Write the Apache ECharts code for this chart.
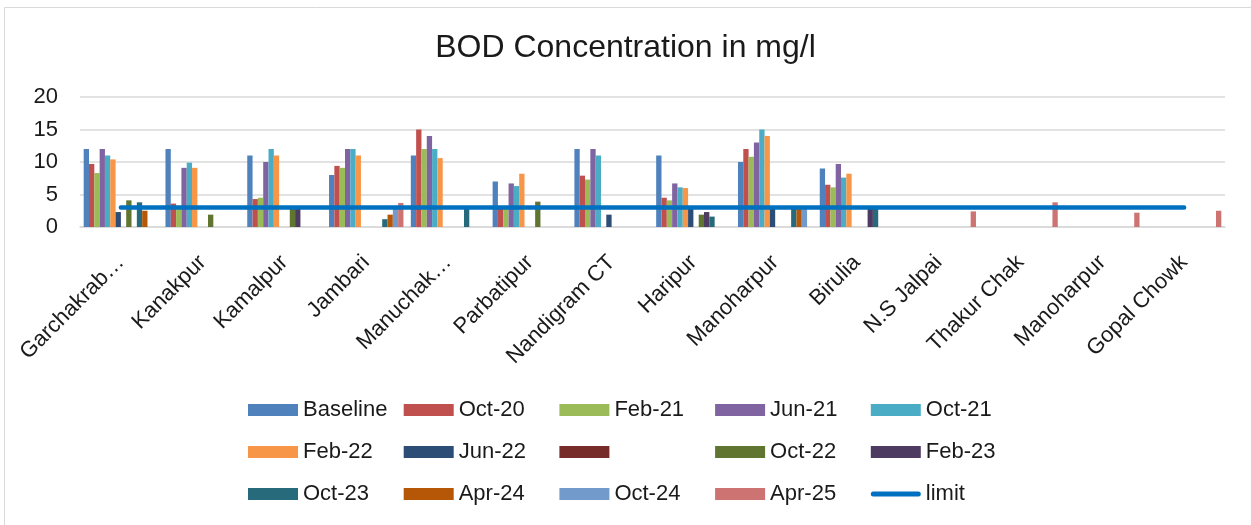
<!DOCTYPE html>
<html>
<head>
<meta charset="utf-8">
<title>BOD Concentration</title>
<script src="https://cdn.jsdelivr.net/npm/echarts@6/dist/echarts.min.js"></script>
<style>
    html, body { margin: 0; padding: 0; background: #fff; }
    #chart { width: 1251px; height: 525px; }
</style>
</head>
<body>
<div id="chart"></div>
<script>
// categories (Excel truncated two of the names)
const stations = ["Garchakrab\u2026", "Kanakpur", "Kamalpur", "Jambari", "Manuchak\u2026", "Parbatipur",
    "Nandigram CT", "Haripur", "Manoharpur", "Birulia", "N.S Jalpai", "Thakur Chak", "Manoharpur", "Gopal Chowk"];

const yTicks = [0, 5, 10, 15, 20];

// bar series values (null = no bar)
const baseline = [12, 12, 11, 8, 11, 7, 12, 11, 10, 9, null, null, null, null];
const oct20 = [9.7, 3.6, 4.3, 9.4, 15, 3, 7.9, 4.5, 12, 6.5, null, null, null, null];
const feb21 = [8.3, 3, 4.5, 9.1, 12, 3, 7.3, 4.1, 10.8, 6.1, null, null, null, null];
const jun21 = [12, 9.1, 10, 12, 14, 6.7, 12, 6.7, 13, 9.7, null, null, null, null];
const oct21 = [11, 9.9, 12, 12, 12, 6.3, 11, 6.1, 15, 7.6, null, null, null, null];
const feb22 = [10.4, 9.1, 11, 11, 10.6, 8.2, null, 6, 14, 8.2, null, null, null, null];
const jun22 = [2.3, null, null, null, null, null, 1.9, 3, 3, null, null, null, null, null];
const blank = [null, null, null, null, null, null, null, null, null, null, null, null, null, null];
const oct22 = [4.1, 1.9, 3, null, null, 3.9, null, 1.9, null, null, null, null, null, null];
const feb23 = [null, null, 3, null, null, null, null, 2.3, null, 3, null, null, null, null];
const oct23 = [3.8, null, null, 1.2, 3, null, null, 1.6, 3, 3, null, null, null, null];
const apr24 = [2.5, null, null, 1.9, null, null, null, null, 3, null, null, null, null, null];
const oct24 = [null, null, null, 3, null, null, null, null, 3, null, null, null, null, null];
const apr25 = [null, null, null, 3.7, null, null, null, null, null, null, 2.4, 3.8, 2.2, 2.5];
const limit = [3, 3, 3, 3, 3, 3, 3, 3, 3, 3, 3, 3, 3, 3];

const barNames = ["Baseline", "Oct-20", "Feb-21", "Jun-21", "Oct-21", "Feb-22", "Jun-22", " ",
    "Oct-22", "Feb-23", "Oct-23", "Apr-24", "Oct-24", "Apr-25"];
const barValues = [baseline, oct20, feb21, jun21, oct21, feb22, jun22, blank,
    oct22, feb23, oct23, apr24, oct24, apr25];
const barColors = ["#4F81BD", "#C0504D", "#9BBB59", "#8064A2", "#4BACC6", "#F79646", "#2C4D75", "#772C2A",
    "#5F7530", "#4D3B62", "#276A7C", "#B65708", "#729ACA", "#CD7371"];

const font = "Liberation Sans, Arial, sans-serif";
const textColor = "#1a1a1a";

const series = barNames.map(function (name, i) {
    return {
        name: name,
        type: "bar",
        barGap: 0,
        barCategoryGap: "9%",
        itemStyle: { color: barColors[i] },
        data: barValues[i],
    };
});
series.push({
    name: "limit",
    type: "line",
    symbol: "none",
    lineStyle: { color: "#0070C0", width: 4.5, cap: "round" },
    itemStyle: { color: "#0070C0" },
    data: limit,
});

// legend: Excel lays it out as a 5-column grid, so one vertical legend per column
const capsule = "path://M2.5,0 L47.5,0 A2.5,2.5 0 0 1 47.5,5 L2.5,5 A2.5,2.5 0 0 1 2.5,0 Z";
const legendItems = barNames.map(function (n) { return { name: n, icon: "rect" }; });
legendItems.push({ name: "limit", icon: capsule });

const legendColumn = function (col) {
    return {
        orient: "vertical",
        data: [legendItems[col], legendItems[col + 5], legendItems[col + 10]],
        left: 248 + col * 155.7,
        top: 399,
        padding: 0,
        itemWidth: 50,
        itemHeight: 12,
        itemGap: 20,
        selectedMode: false,
        textStyle: { fontFamily: font, fontSize: 22, color: textColor },
    };
};

const chart = echarts.init(document.getElementById("chart"));
chart.setOption({
    animation: false,
    backgroundColor: "#fff",
    textStyle: { fontFamily: font },
    title: {
        text: "BOD Concentration in mg/l",
        left: "center",
        top: 32,
        padding: 0,
        textStyle: { fontFamily: font, fontSize: 32, fontWeight: "normal", color: textColor },
    },
    graphic: [{
        type: "rect",
        shape: { x: 4.5, y: 7.5, width: 1400, height: 700 },
        style: { fill: "none", stroke: "#d9d9d9", lineWidth: 1 },
        silent: true,
    }],
    legend: [0, 1, 2, 3, 4].map(legendColumn),
    grid: { left: 80, right: 26, top: 97, bottom: 298 },
    xAxis: {
        type: "category",
        data: stations,
        axisTick: { show: false },
        axisLine: { lineStyle: { color: "#d9d9d9", width: 1.5 } },
        axisLabel: { interval: 0, rotate: 45, margin: 32, fontSize: 22, color: textColor, fontFamily: font },
    },
    yAxis: {
        type: "value",
        min: yTicks[0],
        max: yTicks[yTicks.length - 1],
        interval: 5,
        axisLine: { show: false },
        axisTick: { show: false },
        splitLine: { lineStyle: { color: "#d9d9d9", width: 1.5 } },
        axisLabel: { margin: 22, fontSize: 22, color: textColor, fontFamily: font },
    },
    series: series,
});
</script>
</body>
</html>
